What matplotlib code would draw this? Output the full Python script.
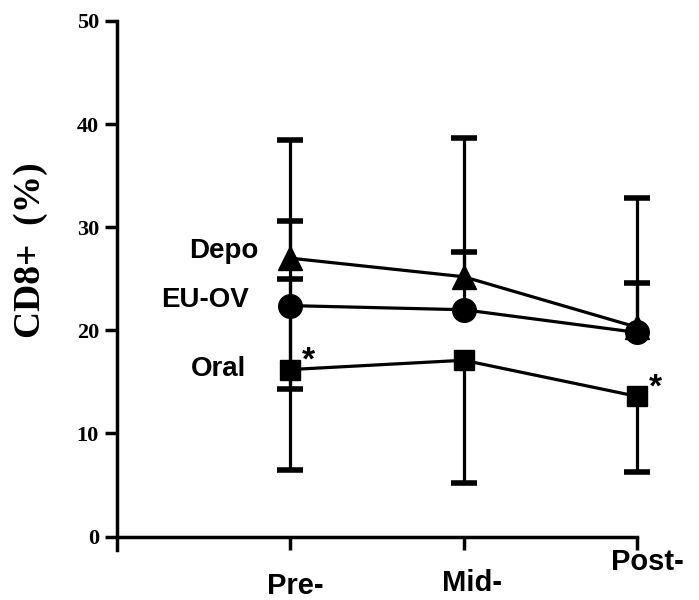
import matplotlib
matplotlib.use("Agg")
import matplotlib.pyplot as plt
import matplotlib.transforms as mtransforms
import numpy as np

# ---- data ----
timepoints = ["Pre-", "Mid-", "Post-"]
groups = ["Depo", "EU-OV", "Oral"]
depo = [27.0, 25.2, 20.3]
euov = [22.4, 22.0, 19.8]
oral = [16.2, 17.1, 13.6]
# error bar extents below / above the mean; 0 = not shown
depo_lo = [0, 0, 0]
depo_up = [11.5, 13.5, 12.5]
euov_lo = [8.1, 0, 0]
euov_up = [8.2, 5.6, 4.8]
oral_lo = [9.7, 11.9, 7.3]
oral_up = [8.8, 0, 0]
significant = [True, False, True]  # asterisks on Oral
y_ticks = [0, 10, 20, 30, 40, 50]

plt.rcParams["font.family"] = ["Liberation Sans", "DejaVu Sans"]

fig = plt.figure(figsize=(6.99, 6.0), dpi=100)
ax = fig.add_axes([0.1674, 1 - 550 / 600, (637 - 117) / 699, (550 - 21) / 600])

x = np.arange(1, len(timepoints) + 1)
series = [(depo, depo_lo, depo_up, "^", 17),
          (euov, euov_lo, euov_up, "o", 17),
          (oral, oral_lo, oral_up, "s", 15)]

for vals, lo, up, mk, ms in series:
    vals = np.asarray(vals, float)
    lo = np.asarray(lo, float)
    up = np.asarray(up, float)
    ax.vlines(x, vals - lo, vals + up, colors="black", lw=2.3, zorder=2, clip_on=False)
    ends_x = np.concatenate([x[lo > 0], x[up > 0]])
    ends_y = np.concatenate([(vals - lo)[lo > 0], (vals + up)[up > 0]])
    ax.plot(ends_x, ends_y, ls="none", marker="_", ms=19, mew=4, color="black",
            zorder=2, clip_on=False)
    ax.plot(x, vals, color="black", lw=2.3, marker=mk, ms=ms,
            mfc="black", mec="black", zorder=3, clip_on=False)

# group labels to the left of the first time point
label_offsets = [(-23, 0), (-30, -1), (-32, -5)]
for name, vals, off in zip(groups, [depo, euov, oral], label_offsets):
    ax.annotate(name, xy=(x[0], vals[0]), xytext=off, textcoords="offset points",
                ha="right", va="baseline", fontsize=20, fontweight="bold")

# asterisks
for xi, v, s in zip(x, oral, significant):
    if s:
        ax.annotate("*", xy=(xi, v), xytext=(13, -5), textcoords="offset points",
                    ha="center", va="bottom", fontsize=24, fontweight="bold")

ax.set_xlim(0, 3)
ax.set_ylim(-1.3, 50)
ax.spines["top"].set_visible(False)
ax.spines["right"].set_visible(False)
ax.spines["bottom"].set_position(("data", 0))
ax.spines["left"].set_linewidth(2.5)
ax.spines["bottom"].set_linewidth(2.5)

ax.set_yticks(y_ticks)
ax.set_yticklabels([str(t) for t in y_ticks], fontfamily="Liberation Serif",
                   fontweight="bold", fontsize=16)
ax.tick_params(axis="y", direction="out", length=9, width=2.5, pad=4)
ax.set_xticks(x)
ax.set_xticklabels([])
ax.tick_params(axis="x", direction="out", length=9, width=2.5)

# time point labels (slightly staggered as in the original)
trans = mtransforms.blended_transform_factory(ax.transData, fig.transFigure)
label_y = [1 - 594 / 600, 1 - 591 / 600, 1 - 570 / 600]
label_dx = [0.03, 0.05, 0.06]
for xi, t, ly, dx in zip(x, timepoints, label_y, label_dx):
    fig.text(xi + dx, ly, t, transform=trans, ha="center", va="baseline",
             fontsize=21, fontweight="bold")

fig.text(31 / 699, 1 - 250 / 600, "CD8+  (%)", rotation=90, ha="center", va="center",
         fontfamily="Liberation Serif", fontweight="bold", fontsize=27)

fig.savefig("out.png", dpi=100)
